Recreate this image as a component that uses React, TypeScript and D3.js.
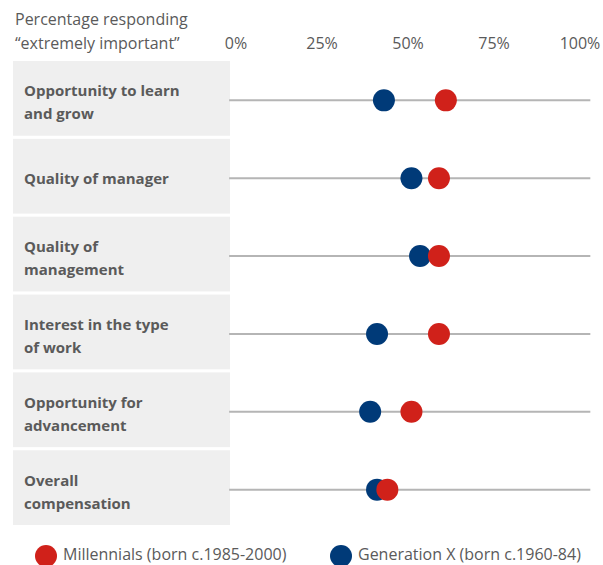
import React from 'react';
import * as d3 from 'd3';

const categories = [
  ['Opportunity to learn', 'and grow'],
  ['Quality of manager'],
  ['Quality of', 'management'],
  ['Interest in the type', 'of work'],
  ['Opportunity for', 'advancement'],
  ['Overall', 'compensation'],
];
const millennials = [61, 59, 59, 59, 51, 44];
const genX = [43, 51, 53.5, 41, 39, 41];
const ticks = [0, 25, 50, 75, 100];
const seriesNames = ['Millennials (born c.1985-2000)', 'Generation X (born c.1960-84)'];

const RED = '#d0211a';
const NAVY = '#003a78';
const TEXT = '#5a5a5a';
const FONT = '"Open Sans", "Noto Sans", sans-serif';

const App: React.FC = () => {
  const width = 603;
  const height = 565;

  const x = d3.scaleLinear().domain([0, 100]).range([236, 580]);
  const y = d3.scaleBand<number>()
    .domain(d3.range(categories.length))
    .range([61, 525])
    .paddingInner(0.04);

  const r = 11;

  return (
    <svg width={width} height={height} style={{ position: 'absolute', left: 0, top: 0, fontFamily: FONT }}>
      <rect width={width} height={height} fill="#fff" />
      <text x={15} y={25} fontSize={16} fill={TEXT}>Percentage responding</text>
      <text x={15} y={49} fontSize={16} fill={TEXT}>“extremely important”</text>
      {ticks.map(t => (
        <text key={t} x={x(t)} y={49} fontSize={16} fill={TEXT} textAnchor="middle">{t}%</text>
      ))}

      {categories.map((lines, i) => {
        const top = y(i)!;
        const cy = top + y.bandwidth() / 2 + 2;
        return (
          <g key={i}>
            <rect x={13} y={top} width={217} height={y.bandwidth()} fill="#efefef" />
            {lines.length === 1 ? (
              <text x={24} y={cy + 6} fontSize={15} fontWeight={700} fill={TEXT}>{lines[0]}</text>
            ) : (
              <>
                <text x={24} y={cy - 4} fontSize={15} fontWeight={700} fill={TEXT}>{lines[0]}</text>
                <text x={24} y={cy + 19} fontSize={15} fontWeight={700} fill={TEXT}>{lines[1]}</text>
              </>
            )}
            <line x1={x(-2)} x2={x(103)} y1={cy} y2={cy} stroke="#b5b5b5" strokeWidth={2} />
            <circle cx={x(genX[i])} cy={cy} r={r} fill={NAVY} />
            <circle cx={x(millennials[i])} cy={cy} r={r} fill={RED} />
          </g>
        );
      })}

      <circle cx={46} cy={556} r={r} fill={RED} />
      <text x={63} y={560} fontSize={16} fill={TEXT}>{seriesNames[0]}</text>
      <circle cx={341} cy={556} r={r} fill={NAVY} />
      <text x={358} y={560} fontSize={16} fill={TEXT}>{seriesNames[1]}</text>
    </svg>
  );
};

export default App;
